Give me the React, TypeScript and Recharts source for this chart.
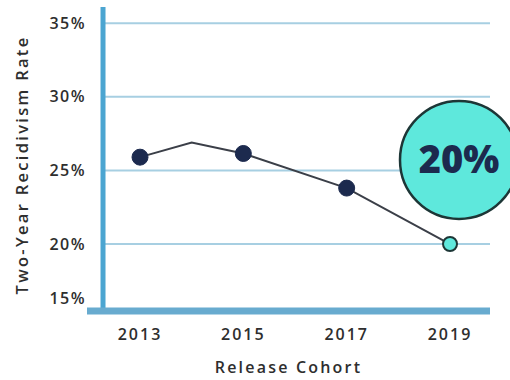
import { LineChart, Line, XAxis, YAxis, ReferenceLine, ReferenceDot } from 'recharts';

const years = [2013, 2014, 2015, 2017, 2019];
const rates = [25.9, 26.9, 26.15, 23.8, 20.0];
const showDot = [true, false, true, true, true];
const xTicks = [2013, 2015, 2017, 2019];
const yTicks = [16.3, 20, 25, 30, 35];
const yTickLabels = ['15%', '20%', '25%', '30%', '35%'];
const gridValues = [20, 25, 30, 35];
const highlightLabel = '20%';

const X_MIN = 2011.974;
const X_MAX = 2019.774;
const Y_MIN = 15.45;
const Y_MAX = 36.1;
const Y_AXIS_AT = 2012.284;

const data = years.map((year, i) => ({ year, rate: rates[i], dot: showDot[i] }));

const NAVY = '#1c2a4e';
const TURQ = '#5ee8dc';
const TEXT = '#2e2e2e';

function renderDot(props: any) {
  const { cx, cy, index } = props;
  if (!data[index].dot) return <g key={`d${index}`} />;
  const last = index === data.length - 1;
  return (
    <circle
      key={`d${index}`}
      cx={cx}
      cy={cy}
      r={last ? 7 : 8}
      fill={last ? TURQ : NAVY}
      stroke={last ? '#1d3636' : NAVY}
      strokeWidth={last ? 2 : 1}
    />
  );
}

export default function App() {
  return (
    <div style={{ position: 'absolute', left: 0, top: 0, fontFamily: '"Open Sans", sans-serif', background: '#fff' }}>
      <LineChart width={510} height={380} data={data} margin={{ top: 7, right: 20, bottom: 0, left: 0 }}>
        {gridValues.map((g) => (
          <ReferenceLine
            key={g}
            segment={[{ x: Y_AXIS_AT, y: g }, { x: X_MAX, y: g }]}
            stroke="#a7cfe2"
            strokeWidth={2}
            ifOverflow="visible"
          />
        ))}
        <XAxis
          dataKey="year"
          type="number"
          domain={[X_MIN, X_MAX]}
          allowDataOverflow
          ticks={xTicks}
          height={69}
          axisLine={{ stroke: '#68abcf', strokeWidth: 7 }}
          tickLine={false}
          tickSize={0}
          tickMargin={18}
          tick={{ fill: TEXT, fontSize: 16, fontWeight: 600, letterSpacing: 2 }}
          label={{ value: 'Release Cohort', position: 'insideBottom', offset: 7, fill: TEXT, fontSize: 16, fontWeight: 600, letterSpacing: 2.2 }}
        />
        <YAxis
          type="number"
          domain={[Y_MIN, Y_MAX]}
          allowDataOverflow
          ticks={yTicks}
          width={87}
          axisLine={false}
          tickLine={false}
          tickSize={0}
          tickMargin={1}
          tickFormatter={(_v: number, i: number) => yTickLabels[i]}
          tick={{ fill: TEXT, fontSize: 16, fontWeight: 600, letterSpacing: 1.5 }}
          label={{ value: 'Two-Year Recidivism Rate', angle: -90, position: 'center', dx: -21, dy: 6, fill: TEXT, fontSize: 16.5, fontWeight: 600, letterSpacing: 2.3 }}
        />
        <ReferenceLine
          segment={[{ x: Y_AXIS_AT, y: Y_MIN }, { x: Y_AXIS_AT, y: Y_MAX }]}
          stroke="#4ba5d1"
          strokeWidth={5}
          ifOverflow="visible"
        />
        <Line
          dataKey="rate"
          stroke="#3b3f48"
          strokeWidth={2}
          dot={renderDot}
          activeDot={false}
          isAnimationActive={false}
        />
        <ReferenceDot
          x={2019.174}
          y={25.71}
          r={59}
          fill={TURQ}
          stroke="#1d3636"
          strokeWidth={2.5}
          ifOverflow="visible"
          label={{ value: highlightLabel, position: 'center', fill: NAVY, fontSize: 38, fontWeight: 800 }}
        />
      </LineChart>
    </div>
  );
}
